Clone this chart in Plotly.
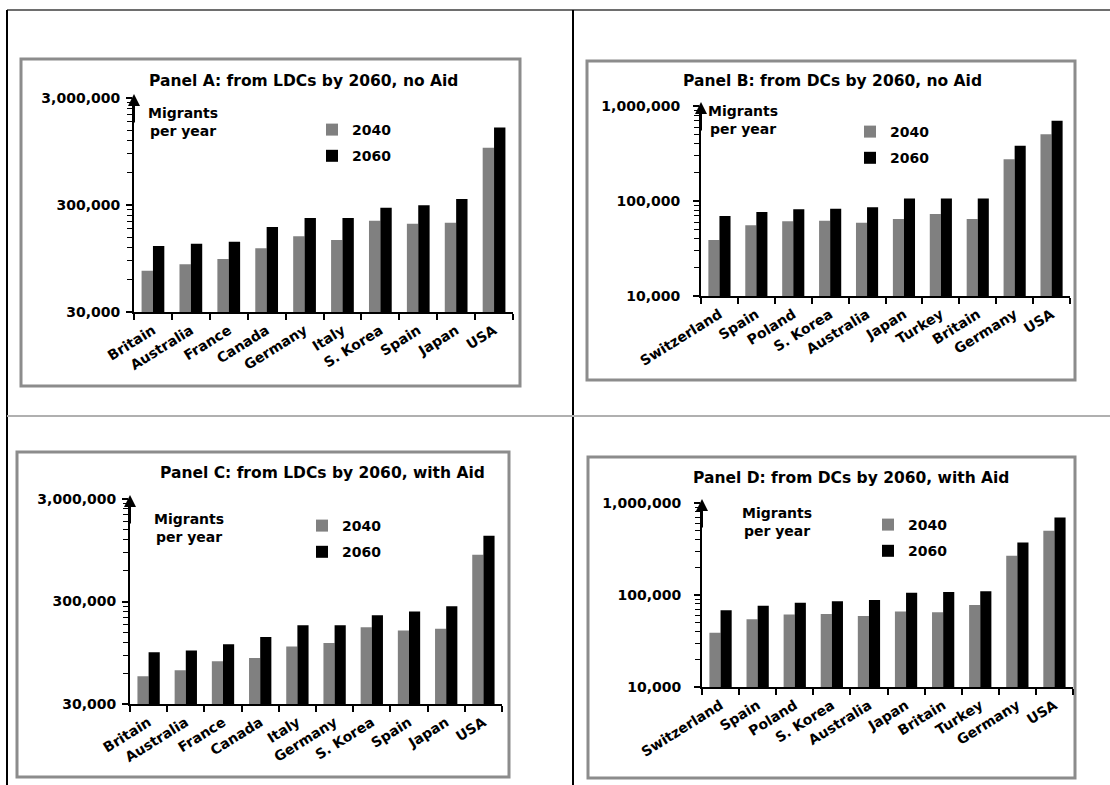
import math
import plotly.graph_objects as go

W, H = 1110, 785

# ---------------- data ----------------
cats_A = ["Britain", "Australia", "France", "Canada", "Germany", "Italy", "S. Korea", "Spain", "Japan", "USA"]
a_2040 = [73000, 84000, 94000, 118000, 153000, 141000, 214000, 200000, 205000, 1026000]
a_2060 = [124000, 130000, 136000, 187000, 227000, 227000, 283000, 298000, 341000, 1588000]

cats_B = ["Switzerland", "Spain", "Poland", "S. Korea", "Australia", "Japan", "Turkey", "Britain", "Germany", "USA"]
b_2040 = [38800, 55400, 61100, 62100, 59200, 64700, 73000, 64700, 275000, 503000]
b_2060 = [69500, 76600, 81700, 83000, 85800, 106000, 106000, 106000, 382000, 701000]

cats_C = ["Britain", "Australia", "France", "Canada", "Italy", "Germany", "S. Korea", "Spain", "Japan", "USA"]
c_2040 = [55900, 64000, 78400, 84500, 109000, 118000, 168000, 156000, 163000, 857000]
c_2060 = [96000, 100000, 115000, 135000, 176000, 176000, 220000, 240000, 270000, 1315000]

cats_D = ["Switzerland", "Spain", "Poland", "S. Korea", "Australia", "Japan", "Britain", "Turkey", "Germany", "USA"]
d_2040 = [38800, 54500, 61200, 62300, 59200, 66000, 64900, 77900, 267000, 498000]
d_2060 = [68200, 76600, 82600, 85400, 88300, 106000, 108000, 110000, 372000, 694000]

titles = ["Panel A: from LDCs by 2060, no Aid", "Panel B: from DCs by 2060, no Aid",
          "Panel C: from LDCs by 2060, with Aid", "Panel D: from DCs by 2060, with Aid"]
series_names = ["2040", "2060"]

ldc_ticks = [30000, 300000, 3000000]
ldc_ticktext = ["30,000", "300,000", "3,000,000"]
dc_ticks = [10000, 100000, 1000000]
dc_ticktext = ["10,000", "100,000", "1,000,000"]

# ---------------- style ----------------
FONT = "DejaVu Sans"
COL_2040 = "#808080"
COL_2060 = "#000000"


def px_x(v):
    return v / W


def px_y(v):
    return 1 - v / H


# plot areas (left, right, top, bottom) in pixels
areas = [(134, 513, 98, 312), (701, 1070, 106, 296), (130, 502, 499, 704), (702, 1073, 503, 687)]
boxes = [(21, 520, 59, 386), (587, 1075, 61, 380), (17, 509, 452, 777), (588, 1075, 457, 778)]
title_pos = [(303, 81), (832, 81), (322, 473), (851, 478)]
label_pos = [(183, 122), (743, 120), (189, 528), (777, 522)]
legend_pos = [(312, 114), (850, 116), (302, 510), (868, 509)]
label_standoff = [3, 10, 3, 10]

panels = [(cats_A, a_2040, a_2060, ldc_ticks, ldc_ticktext),
          (cats_B, b_2040, b_2060, dc_ticks, dc_ticktext),
          (cats_C, c_2040, c_2060, ldc_ticks, ldc_ticktext),
          (cats_D, d_2040, d_2060, dc_ticks, dc_ticktext)]

fig = go.Figure()
layout = dict(width=W, height=H, margin=dict(l=0, r=0, t=0, b=0, autoexpand=False),
              template="none",
              paper_bgcolor="white", plot_bgcolor="white",
              barmode="group", bargap=0.40, bargroupgap=0.0,
              showlegend=True,
              font=dict(family=FONT, size=13, color="black", weight="bold"))
annotations = []
shapes = []

for i, (cats, s40, s60, tv, tt) in enumerate(panels):
    n = i + 1
    xa = "x" if n == 1 else f"x{n}"
    ya = "y" if n == 1 else f"y{n}"
    lg = "legend" if n == 1 else f"legend{n}"
    for name, vals, col in [(series_names[0], s40, COL_2040), (series_names[1], s60, COL_2060)]:
        fig.add_trace(go.Bar(x=cats, y=vals, name=name, marker=dict(color=col, line=dict(width=0)),
                             xaxis=xa, yaxis=ya, legend=lg, legendgroup=f"{n}-{name}"))
    l, r, t, b = areas[i]
    minor_vals = [tv[0] * k for k in range(2, 10)] + [tv[1] * k for k in range(2, 10)]
    layout[f"xaxis{'' if n == 1 else n}"] = dict(
        domain=[px_x(l), px_x(r)], anchor=ya, type="category", automargin=False,
        showline=True, linecolor="black", linewidth=2, mirror=False,
        ticks="outside", tickson="boundaries", ticklen=6, tickwidth=2, tickcolor="black",
        ticklabelstandoff=3,
        tickangle=-32, tickfont=dict(family=FONT, size=14, color="black", weight="bold"),
        showgrid=False, zeroline=False, fixedrange=True)
    layout[f"yaxis{'' if n == 1 else n}"] = dict(
        domain=[px_y(b), px_y(t)], anchor=xa, type="log", automargin=False,
        range=[math.log10(tv[0]), math.log10(tv[2])],
        showline=True, linecolor="black", linewidth=2,
        tickmode="array", tickvals=tv, ticktext=tt,
        ticks="outside", ticklen=6, tickwidth=2, tickcolor="black",
        ticklabelstandoff=label_standoff[i],
        minor=dict(tickmode="array", tickvals=minor_vals, ticks="outside", ticklen=5,
                   tickwidth=1, tickcolor="black", showgrid=False),
        tickfont=dict(family=FONT, size=14, color="black", weight="bold"),
        showgrid=False, zeroline=False, fixedrange=True)
    lx, ly = legend_pos[i]
    layout[lg] = dict(x=px_x(lx), y=px_y(ly), xanchor="left", yanchor="top",
                      bgcolor="rgba(0,0,0,0)", borderwidth=0, tracegroupgap=5,
                      font=dict(family=FONT, size=14, color="black", weight="bold"),
                      itemwidth=30, traceorder="grouped")
    # panel title
    tx, ty = title_pos[i]
    annotations.append(dict(text=titles[i], x=px_x(tx), y=px_y(ty), xref="paper", yref="paper",
                            showarrow=False, xanchor="center", yanchor="middle",
                            font=dict(family=FONT, size=15.5, color="black", weight="bold")))
    # axis label
    mx, my = label_pos[i]
    annotations.append(dict(text="Migrants<br>per year", x=px_x(mx), y=px_y(my), xref="paper", yref="paper",
                            showarrow=False, xanchor="center", yanchor="middle", align="center",
                            font=dict(family=FONT, size=14, color="black", weight="bold")))
    # arrow at top of y axis
    annotations.append(dict(text="", x=px_x(l), y=px_y(t - 4), xref="paper", yref="paper",
                            showarrow=True, ax=0, ay=30, axref="pixel", ayref="pixel",
                            arrowhead=2, arrowsize=1.2, arrowwidth=2, arrowcolor="black", standoff=0))
    # panel frame
    bl, br, bt, bb = boxes[i]
    shapes.append(dict(type="rect", xref="paper", yref="paper",
                       x0=px_x(bl), x1=px_x(br), y0=px_y(bb), y1=px_y(bt),
                       line=dict(color="#8c8c8c", width=3), fillcolor="rgba(0,0,0,0)", layer="below"))

# outer page grid lines
shapes += [
    dict(type="line", xref="paper", yref="paper", x0=px_x(7), x1=1, y0=px_y(10), y1=px_y(10),
         line=dict(color="#6e6e6e", width=2)),
    dict(type="line", xref="paper", yref="paper", x0=px_x(7), x1=px_x(7), y0=px_y(10), y1=0,
         line=dict(color="black", width=2)),
    dict(type="line", xref="paper", yref="paper", x0=px_x(573), x1=px_x(573), y0=px_y(10), y1=0,
         line=dict(color="black", width=2)),
    dict(type="line", xref="paper", yref="paper", x0=px_x(7), x1=1, y0=px_y(416), y1=px_y(416),
         line=dict(color="#b0b0b0", width=2)),
]

layout["annotations"] = annotations
layout["shapes"] = shapes
fig.update_layout(**layout)
fig.write_html("out.html")
